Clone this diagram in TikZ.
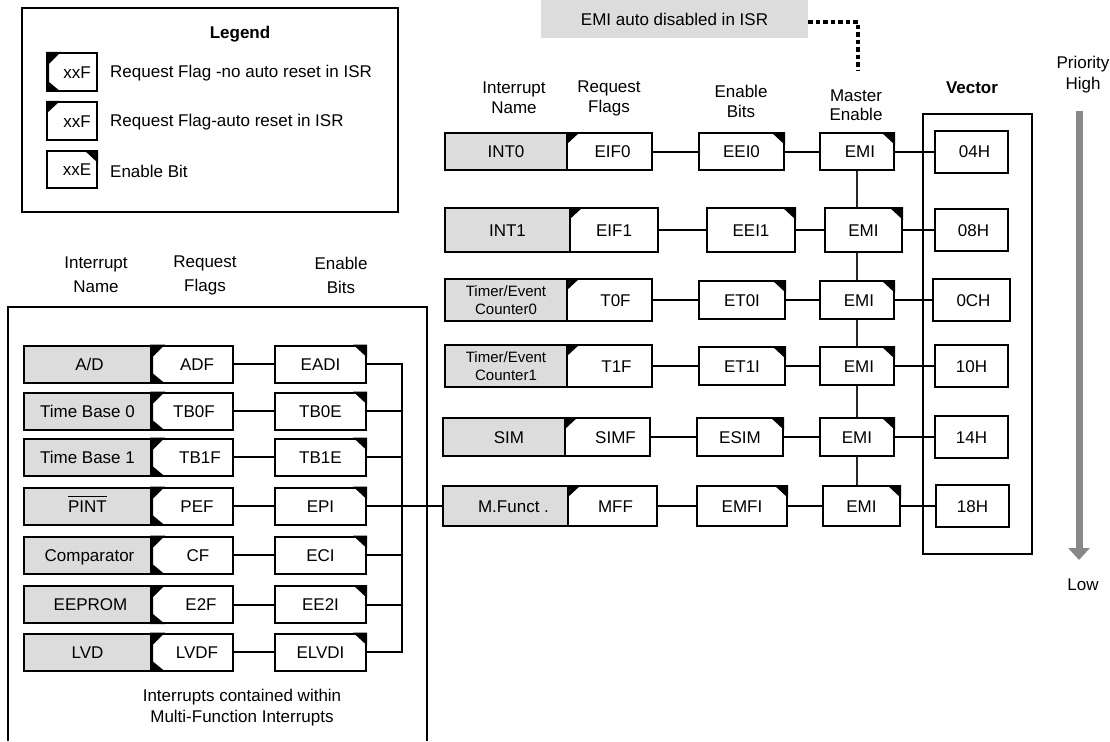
\documentclass[tikz,border=0pt]{standalone}
\usepackage{fontspec}
\setmainfont{Liberation Sans}
\usetikzlibrary{arrows.meta}
\definecolor{boxgray}{RGB}{220,220,220}
\definecolor{arrgray}{RGB}{136,136,136}
\newcommand\tlcorner[1]{\fill (#1.north west) -- ++(14,0) -- ++(-14,13) -- cycle;}
\newcommand\trcorner[1]{\fill (#1.north east) -- ++(-14,0) -- ++(14,13) -- cycle;}
\newcommand\lnotch[1]{\fill (#1.north west) -- ++(15,0) -- ++(-12,12) -- ([shift={(3,-10)}]#1.south west) -- ([shift={(15,0)}]#1.south west) -- (#1.south west) -- cycle;}
\newcommand\barred[1]{{\setbox0\hbox{#1}\rlap{\rule[\dimexpr\ht0+3pt\relax]{\wd0}{1.3pt}}#1}}
\begin{document}
\begin{tikzpicture}[x=1pt,y=-1pt,
  font=\fontsize{17}{20}\selectfont,
  boxbase/.style={draw, line width=2pt, inner sep=0pt, fill=white},
  bx/.style={boxbase, text height=12.2pt, text depth=0pt},
  namebx/.style={bx, fill=boxgray},
  namebxtwo/.style={boxbase, fill=boxgray, align=center, font=\fontsize{15}{18}\selectfont},
  conn/.style={line width=2pt, line cap=rect},
  chainln/.style={line width=2pt, black!85},
  dotln/.style={line width=3.5pt, dash pattern=on 4.5pt off 3pt},
  txt/.style={inner sep=0pt, align=center}]
\useasboundingbox (0,0) rectangle (1110,741);

% ---------- Legend ----------
\node[draw, line width=2.5pt, minimum width=376pt, minimum height=204pt] (legend) at (210,110) {};
\node[txt, font=\fontsize{17}{20}\selectfont\bfseries] (legtitle) at (240,34) {Legend};
\node[bx, minimum width=50pt, minimum height=38pt] (lg1) at (72,72) {\hspace*{10pt}xxF};
\lnotch{lg1}
\node[bx, minimum width=50pt, minimum height=38pt] (lg2) at (72,121) {\hspace*{10pt}xxF};
\tlcorner{lg2}
\node[bx, minimum width=50pt, minimum height=37pt] (lg3) at (72,169.5) {\hspace*{10pt}xxE};
\trcorner{lg3}
\node[txt, anchor=west] (lt1) at (110,73) {Request Flag -no auto reset in ISR};
\node[txt, anchor=west] (lt2) at (110,122) {Request Flag-auto reset in ISR};
\node[txt, anchor=west] (lt3) at (110,171) {Enable Bit};

% ---------- top note ----------
\node[fill=boxgray, minimum width=267pt, minimum height=38pt, inner sep=0pt] (emibox) at (674.5,19) {EMI auto disabled in ISR};
\coordinate (dotend) at (858,70);
\draw[dotln] ([yshift=-3pt]emibox.east) -| (dotend);

% ---------- right headers ----------
\node[txt, font=\fontsize{17}{20}\selectfont] (h1) at (514,98) {Interrupt\\Name};
\node[txt, font=\fontsize{17}{20}\selectfont] (h2) at (609,98) {Request\\Flags};
\node[txt, font=\fontsize{17}{20}\selectfont] (h3) at (741,101) {Enable\\Bits};
\node[txt, font=\fontsize{17}{19}\selectfont] (h4) at (856,105) {Master\\Enable};
\node[txt, font=\fontsize{17}{20}\selectfont\bfseries] (h5) at (972,88) {Vector};
\node[txt, font=\fontsize{17}{21}\selectfont] (prio) at (1083,75) {Priority\\High};
\node[txt] (low) at (1083,585) {Low};
\coordinate (ptop) at (1079,111);
\coordinate (pbot) at (1079,560);
\draw[arrgray, line width=7pt, -{Triangle[width=21pt,length=12pt]}] (ptop) -- (pbot);

% ---------- vector frame ----------
\node[draw, line width=1.5pt, minimum width=109pt, minimum height=440pt] (vecbox) at (977.5,334) {};

% ---------- right rows ----------
% INT0
\node[namebx, minimum width=122pt, minimum height=37pt] (n0) at (506,151.5) {INT0};
\node[bx, minimum width=85pt, minimum height=37pt] (f0) at (609.5,151.5) {\hspace*{6pt}EIF0};
\node[bx, minimum width=85pt, minimum height=37pt] (e0) at (741.5,151.5) {EEI0};
\node[bx, minimum width=74pt, minimum height=37pt] (m0) at (857,151.5) {\hspace*{6pt}EMI};
\node[bx, minimum width=73pt, minimum height=42pt] (v0) at (971.5,151.5) {\hspace*{6pt}04H};
% INT1
\node[namebx, minimum width=125pt, minimum height=44pt] (n1) at (507.5,230) {INT1};
\node[bx, minimum width=88pt, minimum height=44pt] (f1) at (614,230) {EIF1};
\node[bx, minimum width=88pt, minimum height=44pt] (e1) at (751,230) {EEI1};
\node[bx, minimum width=77pt, minimum height=44pt] (m1) at (863.5,230) {EMI};
\node[bx, minimum width=73pt, minimum height=42pt] (v1) at (971.5,230) {\hspace*{4pt}08H};
% T0
\node[namebxtwo, minimum width=122pt, minimum height=42pt] (n2) at (506,300) {Timer/Event\\Counter0};
\node[bx, minimum width=85pt, minimum height=42pt] (f2) at (609.5,300) {\hspace*{12pt}T0F};
\node[bx, minimum width=86pt, minimum height=38pt] (e2) at (742,300) {ET0I};
\node[bx, minimum width=74pt, minimum height=38pt] (m2) at (857,300) {\hspace*{4pt}EMI};
\node[bx, minimum width=77pt, minimum height=42pt] (v2) at (971.5,300) {\hspace*{4pt}0CH};
% T1
\node[namebxtwo, minimum width=122pt, minimum height=42pt] (n3) at (506,366) {Timer/Event\\Counter1};
\node[bx, minimum width=85pt, minimum height=42pt] (f3) at (609.5,366) {\hspace*{14pt}T1F};
\node[bx, minimum width=86pt, minimum height=38pt] (e3) at (742,366) {ET1I};
\node[bx, minimum width=74pt, minimum height=38pt] (m3) at (857,366) {\hspace*{4pt}EMI};
\node[bx, minimum width=73pt, minimum height=42pt] (v3) at (971.5,366) {10H};
% SIM
\node[namebx, minimum width=122pt, minimum height=38pt] (n4) at (504,437) {\hspace*{10pt}SIM};
\node[bx, minimum width=85pt, minimum height=38pt] (f4) at (607.5,437) {\hspace*{16pt}SIMF};
\node[bx, minimum width=86pt, minimum height=38pt] (e4) at (740,437) {ESIM};
\node[bx, minimum width=74pt, minimum height=38pt] (m4) at (857,437) {EMI};
\node[bx, minimum width=73pt, minimum height=42pt] (v4) at (971.5,437) {14H};
% M.Funct
\node[namebx, minimum width=125pt, minimum height=40pt] (n5) at (505.5,506) {\hspace*{16pt}M.Funct .};
\node[bx, minimum width=89pt, minimum height=40pt] (f5) at (612.5,506) {\hspace*{6pt}MFF};
\node[bx, minimum width=90pt, minimum height=40pt] (e5) at (742,506) {EMFI};
\node[bx, minimum width=77pt, minimum height=40pt] (m5) at (861.5,506) {EMI};
\node[bx, minimum width=73pt, minimum height=42pt] (v5) at (972.5,506) {18H};

\foreach \i in {0,...,5}{
  \tlcorner{f\i}
  \trcorner{e\i}
  \trcorner{m\i}
  \draw[conn] (f\i.east) -- (e\i.west);
  \draw[conn] (e\i.east) -- (m\i.west);
  \draw[conn] (m\i.east) -- (v\i.west);
}
\draw[chainln] (m0.south) -- (m0.south |- m1.north);
\draw[chainln] (m0.south |- m1.south) -- (m0.south |- m2.north);
\draw[chainln] (m0.south |- m2.south) -- (m0.south |- m3.north);
\draw[chainln] (m0.south |- m3.south) -- (m0.south |- m4.north);
\draw[chainln] (m0.south |- m4.south) -- (m0.south |- m5.north);

% ---------- left section ----------
\node[txt, font=\fontsize{17}{24}\selectfont] (lh1) at (96,275) {Interrupt\\Name};
\node[txt, font=\fontsize{17}{24}\selectfont] (lh2) at (205,275) {Request\\Flags};
\node[txt, font=\fontsize{17}{24}\selectfont] (lh3) at (341,275) {Enable\\Bits};
\coordinate (mfbl) at (8,741);
\coordinate (mfbr) at (427,741);
\draw[line width=1.2pt] (mfbl) |- (427,307) -- (mfbr);

\node[namebx, minimum width=127pt, minimum height=37pt] (la) at (87.5,364) {\hspace*{4pt}A/D};
\node[bx, minimum width=82pt, minimum height=37pt] (fa) at (192,364) {\hspace*{10pt}ADF};
\node[bx, minimum width=91pt, minimum height=37pt] (ea) at (320.5,364) {EADI};
\node[namebx, minimum width=127pt, minimum height=37pt] (lb) at (87.5,411) {Time Base 0};
\node[bx, minimum width=82pt, minimum height=37pt] (fb) at (192,411) {\hspace*{4pt}TB0F};
\node[bx, minimum width=91pt, minimum height=37pt] (eb) at (320.5,411) {TB0E};
\node[namebx, minimum width=127pt, minimum height=37pt] (lc) at (87.5,457) {Time Base 1};
\node[bx, minimum width=82pt, minimum height=37pt] (fc) at (192,457) {\hspace*{16pt}TB1F};
\node[bx, minimum width=91pt, minimum height=37pt] (ec) at (320.5,457) {TB1E};
\node[namebx, minimum width=127pt, minimum height=37pt] (ld) at (87.5,506) {\barred{PINT}};
\node[bx, minimum width=82pt, minimum height=37pt] (fd) at (192,506) {\hspace*{10pt}PEF};
\node[bx, minimum width=91pt, minimum height=37pt] (ed) at (320.5,506) {EPI};
\node[namebx, minimum width=127pt, minimum height=37pt] (le) at (87.5,555) {\hspace*{4pt}Comparator};
\node[bx, minimum width=82pt, minimum height=37pt] (fe) at (192,555) {\hspace*{12pt}CF};
\node[bx, minimum width=91pt, minimum height=37pt] (ee) at (320.5,555) {ECI};
\node[namebx, minimum width=127pt, minimum height=37pt] (lf) at (87.5,604.5) {\hspace*{6pt}EEPROM};
\node[bx, minimum width=82pt, minimum height=37pt] (ff) at (192,604.5) {\hspace*{18pt}E2F};
\node[bx, minimum width=91pt, minimum height=37pt] (ef) at (320.5,604.5) {EE2I};
\node[namebx, minimum width=127pt, minimum height=37pt] (lg) at (87.5,652) {LVD};
\node[bx, minimum width=82pt, minimum height=37pt] (fg) at (192,652) {\hspace*{10pt}LVDF};
\node[bx, minimum width=91pt, minimum height=37pt] (eg) at (320.5,652) {ELVDI};

\coordinate (busx) at (402,0);
\foreach \r in {a,b,c,d,e,f,g}{
  \lnotch{f\r}
  \trcorner{e\r}
  \draw[conn] (f\r.east) -- (e\r.west);
  \draw[conn] (e\r.east) -- (e\r.east -| busx);
}
\draw[conn] (ea.east -| busx) -- (eg.east -| busx);
\draw[conn] (ed.east) -- (n5.west);

\node[txt, font=\fontsize{17}{21}\selectfont] (mfnote) at (242,707.5) {Interrupts contained within\\Multi-Function Interrupts};
\end{tikzpicture}
\end{document}
